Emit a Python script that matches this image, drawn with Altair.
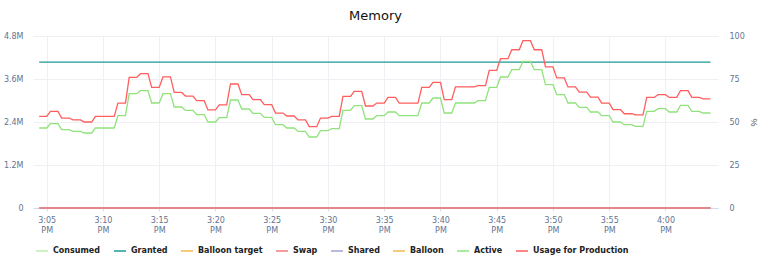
import altair as alt
import pandas as pd

# ---- data ----
series_names = ["Consumed", "Granted", "Balloon target", "Swap", "Shared",
                "Balloon", "Active", "Usage for Production"]
series_colors = ["#b9efaa", "#1e9896", "#f5b84c", "#f27d7d", "#a3a3d6",
                 "#f5b84c", "#90e37c", "#ff5e5e"]

# one value per minute, sampled 15:04:20 ... 16:03:20 (each held 40 s)
active_m = [2.233, 2.353, 2.185, 2.138, 2.093, 2.233, 2.233, 2.576, 3.190, 3.273,
            2.930, 3.190, 2.819, 2.724, 2.604, 2.400, 2.520, 3.014, 2.763, 2.640,
            2.528, 2.325, 2.233, 2.138, 1.981, 2.157, 2.213, 2.724, 2.855, 2.484,
            2.576, 2.679, 2.576, 2.576, 2.930, 3.070, 2.651, 2.930, 2.930, 2.994,
            3.366, 3.656, 3.860, 4.091, 3.860, 3.441, 3.162, 2.930, 2.807, 2.679,
            2.576, 2.400, 2.325, 2.277, 2.696, 2.771, 2.679, 2.863, 2.696, 2.651]
usage_pct = [53.3, 56.2, 52.3, 51.2, 50.0, 53.3, 53.3, 61.0, 75.9, 78.1,
             70.1, 76.2, 67.2, 65.1, 62.4, 57.0, 59.9, 72.1, 65.9, 63.0,
             60.1, 55.2, 53.5, 51.2, 47.3, 52.3, 53.3, 64.9, 67.8, 59.3,
             61.0, 64.3, 61.0, 61.0, 70.1, 73.0, 63.0, 70.4, 70.4, 71.1,
             80.0, 86.8, 92.0, 97.3, 92.0, 82.0, 75.6, 70.4, 67.4, 64.5,
             61.0, 57.2, 54.8, 54.2, 64.3, 65.9, 64.3, 68.2, 64.3, 63.4]
granted_m = 4.07
zero_series = ["Balloon target", "Balloon", "Shared", "Swap"]  # drawn in this order
zero_value = 0.0

first_sample = pd.Timestamp("2024-01-01 15:04:20")
hold = pd.Timedelta(seconds=40)
step = pd.Timedelta(minutes=1)
tick_minutes = [(15, 5), (15, 10), (15, 15), (15, 20), (15, 25), (15, 30),
                (15, 35), (15, 40), (15, 45), (15, 50), (15, 55), (16, 0)]
left_ticks = [0, 1.2, 2.4, 3.6, 4.8]
right_ticks = [0, 25, 50, 75, 100]

# ---- build tables ----
t_first = first_sample
t_last = first_sample + (len(active_m) - 1) * step + hold
rows_zero = []
for s in zero_series:
    for t in (t_first, t_last):
        rows_zero.append({"time": t, "series": s, "value": zero_value})
rows_left = []
for t in (t_first, t_last):
    rows_left.append({"time": t, "series": "Granted", "value": granted_m})
rows_right = []
for k, (a, u) in enumerate(zip(active_m, usage_pct)):
    t0 = first_sample + k * step
    for t in (t0, t0 + hold):
        rows_left.append({"time": t, "series": "Active", "value": a})
        rows_right.append({"time": t, "series": "Usage for Production", "value": u})

df_zero = pd.DataFrame(rows_zero)
df_left = pd.DataFrame(rows_left)
df_right = pd.DataFrame(rows_right)

label_color = "#5f7391"
grid_color = "#f0f0f4"

x_domain = [alt.DateTime(year=2024, month=1, date=1, hours=15, minutes=3, seconds=47),
            alt.DateTime(year=2024, month=1, date=1, hours=16, minutes=4, seconds=40)]
x_ticks = [alt.DateTime(year=2024, month=1, date=1, hours=h, minutes=m) for h, m in tick_minutes]

x_enc = alt.X("time:T", scale=alt.Scale(domain=x_domain),
              axis=alt.Axis(values=x_ticks, title=None,
                            labelExpr="[timeFormat(datum.value, '%-I:%M'), timeFormat(datum.value, '%p')]",
                            labelFontSize=8, labelColor=label_color, labelFont="DejaVu Sans",
                            labelLineHeight=10, labelPadding=5,
                            tickSize=3, tickColor="#d9dde8", domainColor="#d5d9ec",
                            gridColor=grid_color, labelFlush=False))
x_plain = alt.X("time:T", scale=alt.Scale(domain=x_domain))

color_enc = alt.Color("series:N", title=None,
                      scale=alt.Scale(domain=series_names, range=series_colors),
                      legend=alt.Legend(orient="none", legendX=2, legendY=208,
                                        direction="horizontal", symbolType="stroke",
                                        symbolSize=144, symbolStrokeWidth=1.5,
                                        labelFont="DejaVu Sans", labelFontSize=8,
                                        labelFontWeight="bold", labelColor="#222222",
                                        columnPadding=10, labelOffset=4, padding=0))

y_left = alt.Y("value:Q", scale=alt.Scale(domain=[0, 4.8], nice=False),
               axis=alt.Axis(values=left_ticks, title=None, orient="left",
                             labelExpr="datum.value == 0 ? '0' : format(datum.value, '.1f') + 'M'",
                             labelFontSize=8, labelColor=label_color, labelFont="DejaVu Sans",
                             tickSize=0, domain=False, labelPadding=10, gridColor=grid_color))
y_left_plain = alt.Y("value:Q", scale=alt.Scale(domain=[0, 4.8], nice=False))

zero_layer = alt.Chart(df_zero).mark_line(strokeWidth=1.3).encode(
    x=x_enc, y=y_left, color=color_enc)

left = alt.Chart(df_left).mark_line(strokeWidth=1.3).encode(
    x=x_plain, y=y_left_plain, color=color_enc)

right = alt.Chart(df_right).mark_line(strokeWidth=1.3).encode(
    x=x_plain,
    y=alt.Y("value:Q", scale=alt.Scale(domain=[0, 100], nice=False),
            axis=alt.Axis(values=right_ticks, title="%", orient="right", grid=False,
                          labelFontSize=8, labelColor=label_color, labelFont="DejaVu Sans",
                          tickSize=0, domain=False, labelPadding=11,
                          titleFontSize=9, titleColor="#555555", titleFontWeight="normal",
                          titlePadding=4)),
    color=color_enc,
)

left_group = alt.layer(zero_layer, left)

chart = alt.layer(left_group, right).resolve_scale(y="independent").properties(
    width=685, height=172,
    title=alt.TitleParams("Memory", fontSize=13, font="DejaVu Sans", fontWeight="normal",
                          color="#111111", anchor="middle", offset=9),
    autosize=alt.AutoSizeParams(type="none"),
    padding={"left": 33, "top": 36, "right": 47, "bottom": 56},
).configure_view(stroke=None)

chart.save("out.html", embed_options={"renderer": "svg", "actions": False})
